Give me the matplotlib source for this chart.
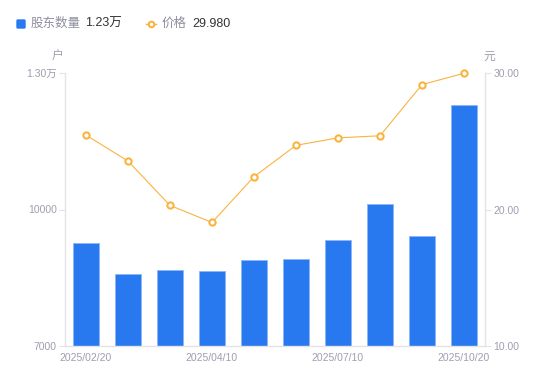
import numpy as np
import matplotlib.pyplot as plt
from matplotlib.lines import Line2D
from matplotlib.patches import FancyBboxPatch

plt.rcParams['font.family'] = ['Liberation Sans', 'Noto Sans CJK SC', 'DejaVu Sans']

dates = ["2025/02/20", "2025/03/10", "2025/03/31", "2025/04/10", "2025/04/30",
         "2025/06/20", "2025/07/10", "2025/08/31", "2025/09/30", "2025/10/20"]
holders = [9260, 8580, 8670, 8650, 8880, 8920, 9330, 10120, 9420, 12300]
price = [25.45, 23.55, 20.30, 19.05, 22.40, 24.70, 25.25, 25.40, 29.15, 29.98]
shown_dates = ["2025/02/20", "2025/04/10", "2025/07/10", "2025/10/20"]

blue = "#2878F0"
orange = "#F9B440"
grey_txt = "#9E9EB0"
axis_c = "#E3E3E8"

W, H = 550, 381
fig = plt.figure(figsize=(5.5, 3.81), dpi=100)
ax = fig.add_axes([65 / W, 1 - 346 / H, 420 / W, (346 - 73) / H])
ax2 = ax.twinx()

x = np.arange(len(dates))
ax.bar(x, holders, width=0.6, color=blue, edgecolor="#8DB6F7", linewidth=0.6, zorder=2)
ax.set_xlim(-0.5, len(dates) - 0.5)
ax.set_ylim(7000, 13000)
ax.set_yticks([7000, 10000, 13000])
ax.set_yticklabels(["7000", "10000", "1.30万"])
ax.set_xticks([dates.index(d) for d in shown_dates])
ax.set_xticklabels(shown_dates)

ax2.plot(x, price, color=orange, linewidth=0.8, marker="o", markersize=4.5,
         markerfacecolor="white", markeredgecolor=orange, markeredgewidth=1.5,
         zorder=3, clip_on=False)
ax2.set_ylim(10, 30)
ax2.set_yticks([10, 20, 30])
ax2.set_yticklabels(["10.00", "20.00", "30.00"])

for a in (ax, ax2):
    for s in a.spines.values():
        s.set_visible(False)
ax.spines["left"].set_visible(True)
ax.spines["bottom"].set_visible(True)
ax2.spines["right"].set_visible(True)
for s in (ax.spines["left"], ax.spines["bottom"], ax2.spines["right"]):
    s.set_color(axis_c)
    s.set_linewidth(1)

ax.tick_params(axis="y", colors=axis_c, labelcolor=grey_txt, labelsize=7.5, length=4, pad=2)
ax.tick_params(axis="x", length=0, labelcolor=grey_txt, labelsize=7.5, pad=5)
ax2.tick_params(axis="y", colors=axis_c, labelcolor=grey_txt, labelsize=7.5, length=4, pad=2)

fig.text(58 / W, 1 - 57 / H, "户", color=grey_txt, fontsize=8.5, ha="center", va="center")
fig.text(489 / W, 1 - 57 / H, "元", color=grey_txt, fontsize=8.5, ha="center", va="center")

# legend
ly = 1 - 24 / H
fig.add_artist(FancyBboxPatch((17 / W, 1 - 28 / H), 8 / W, 8 / H,
                              boxstyle="round,pad=0,rounding_size=0.002",
                              color=blue, transform=fig.transFigure))
fig.text(31 / W, ly, "股东数量", color="#8E8E9E", fontsize=9, va="center")
fig.text(85 / W, ly, "1.23万", color="#333333", fontsize=9, va="center")
fig.add_artist(Line2D([146 / W, 156 / W], [ly, ly], color=orange, linewidth=1, transform=fig.transFigure))
fig.add_artist(Line2D([151 / W], [ly], marker="o", markersize=4, markerfacecolor="white",
                      markeredgecolor=orange, markeredgewidth=1.5, transform=fig.transFigure))
fig.text(162 / W, ly, "价格", color="#8E8E9E", fontsize=9, va="center")
fig.text(192 / W, ly, "29.980", color="#333333", fontsize=9, va="center")

fig.savefig("out.png", dpi=100)
